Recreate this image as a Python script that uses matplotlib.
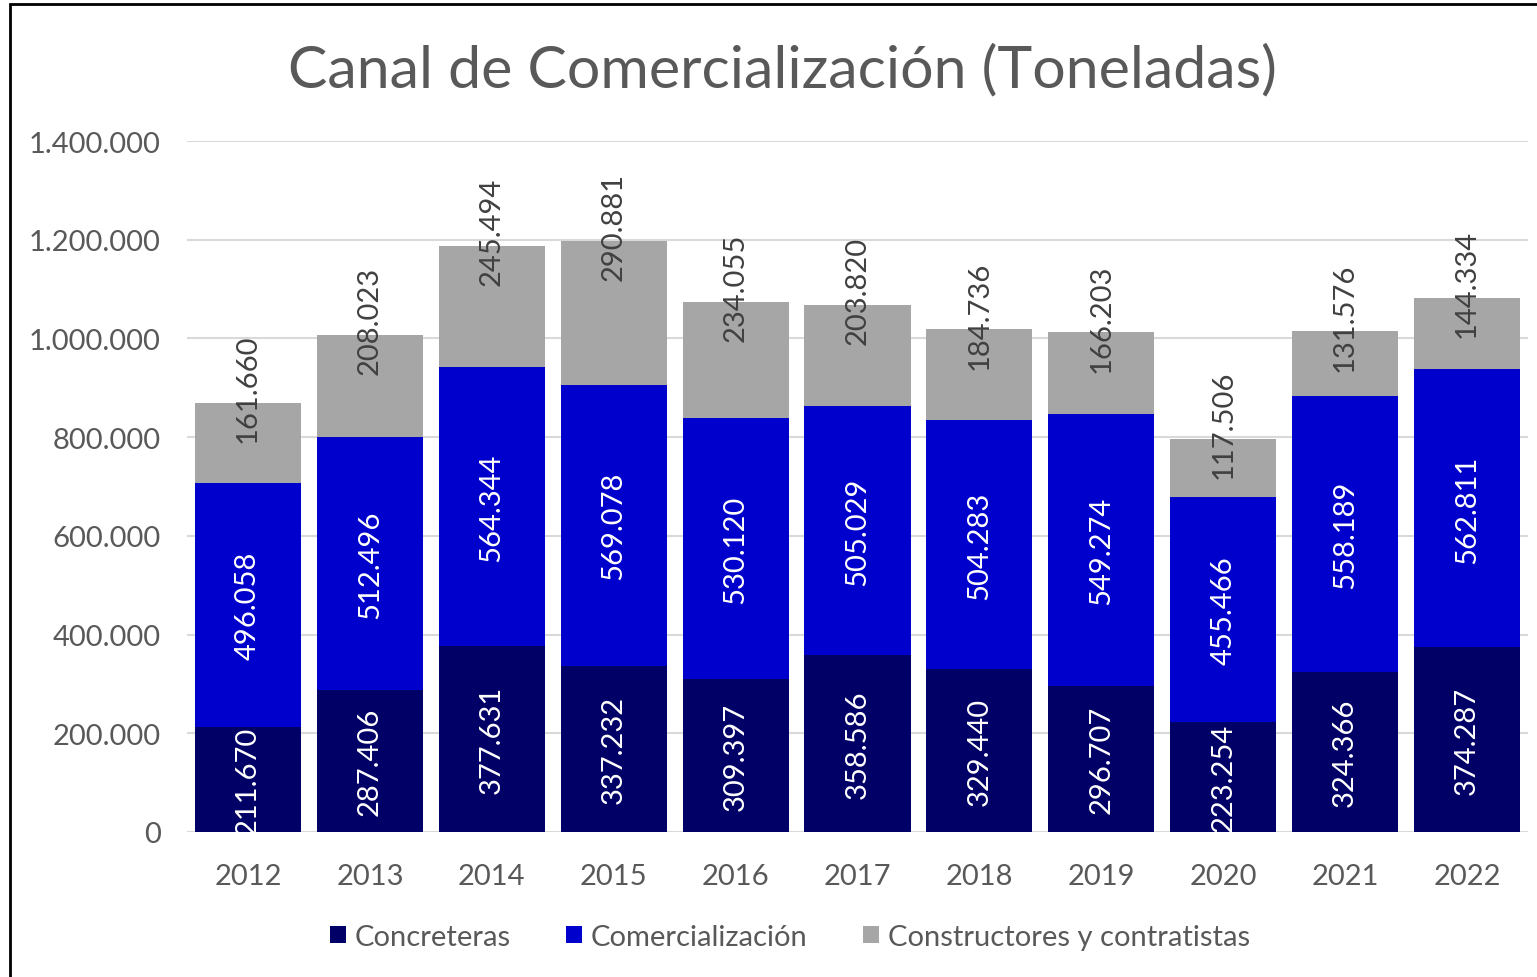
import matplotlib.pyplot as plt
from matplotlib.patches import Rectangle
from matplotlib.ticker import FuncFormatter

years = ['2012', '2013', '2014', '2015', '2016', '2017', '2018', '2019', '2020', '2021', '2022']
concreteras = [211670, 287406, 377631, 337232, 309397, 358586, 329440, 296707, 223254, 324366, 374287]
comercializacion = [496058, 512496, 564344, 569078, 530120, 505029, 504283, 549274, 455466, 558189, 562811]
constructores = [161660, 208023, 245494, 290881, 234055, 203820, 184736, 166203, 117506, 131576, 144334]

names = ['Concreteras', 'Comercialización', 'Constructores y contratistas']
colors = ['#000066', '#0000CC', '#A6A6A6']
font = 'Lato'
txt = '#595959'


def fmt(v):
    return '{:,.0f}'.format(v).replace(',', '.')


fig = plt.figure(figsize=(15.37, 9.78), dpi=100)
ax = fig.add_axes([0.1217, 0.1483, 0.8724, 0.7065])

x = list(range(len(years)))
w = 0.87
b1 = ax.bar(x, concreteras, w, color=colors[0], label=names[0], zorder=2)
bot2 = concreteras
b2 = ax.bar(x, comercializacion, w, bottom=bot2, color=colors[1], label=names[1], zorder=2)
bot3 = [a + b for a, b in zip(concreteras, comercializacion)]
b3 = ax.bar(x, constructores, w, bottom=bot3, color=colors[2], label=names[2], zorder=2)

for i in x:
    ax.text(i, concreteras[i] / 2, fmt(concreteras[i]), rotation=90, ha='center', va='center',
            color='white', fontsize=21, family=font, zorder=3)
    ax.text(i, bot2[i] + comercializacion[i] / 2, fmt(comercializacion[i]), rotation=90,
            ha='center', va='center', color='white', fontsize=21, family=font, zorder=3)
    total = bot3[i] + constructores[i]
    ax.text(i, total + 30000, fmt(constructores[i]), rotation=90, ha='center', va='center',
            color='#404040', fontsize=21, family=font, zorder=3)

ax.set_xlim(-0.5, len(years) - 0.5)
ax.set_ylim(0, 1400000)
ax.set_yticks(range(0, 1400001, 200000))
ax.yaxis.set_major_formatter(FuncFormatter(lambda v, p: fmt(v)))
ax.set_xticks(x)
ax.set_xticklabels(years)
ax.grid(axis='y', color='#D9D9D9', linewidth=1.5, zorder=0)
for s in ax.spines.values():
    s.set_visible(False)
ax.tick_params(length=0, labelcolor=txt, labelsize=21)
ax.tick_params(axis='x', pad=22)
ax.tick_params(axis='y', pad=19)
for lab in ax.get_xticklabels() + ax.get_yticklabels():
    lab.set_family(font)

fig.text(0.509, 0.928, 'Canal de Comercialización (Toneladas)', ha='center', va='center',
         fontsize=42.5, color=txt, family=font)

leg = fig.legend(handles=[b1, b2, b3], loc='center', bbox_to_anchor=(0.514, 0.041), ncol=3,
                 frameon=False, prop={'family': font, 'size': 21}, handlelength=0.55,
                 handleheight=0.55, handletextpad=0.3, columnspacing=1.9)
for t in leg.get_texts():
    t.set_color(txt)

fig.patches.append(Rectangle((10 / 1537, -0.1), 1.2, 1.1 - 5 / 978, transform=fig.transFigure,
                             fill=False, edgecolor='black', linewidth=2))

fig.savefig('out.png', dpi=100)
